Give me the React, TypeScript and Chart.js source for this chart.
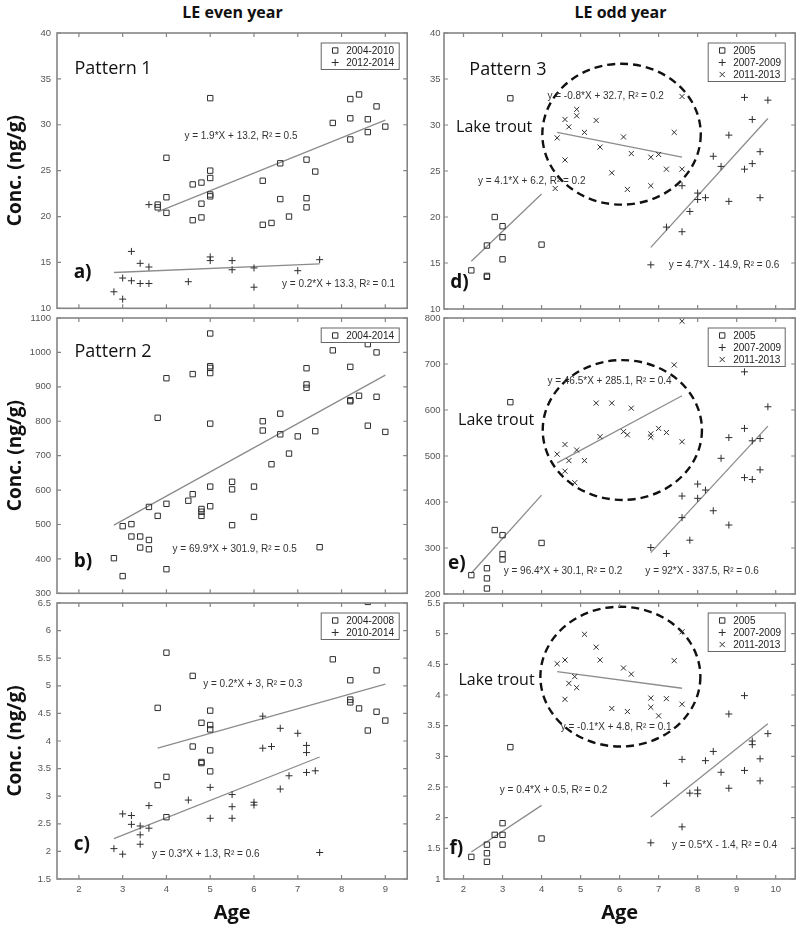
import React, { useEffect, useRef } from 'react';
import { Chart, registerables } from 'chart.js';

Chart.register(...registerables);

// ---------------- axis ticks ----------------
const xTicksEven = [2, 3, 4, 5, 6, 7, 8, 9];
const xTicksOdd = [2, 3, 4, 5, 6, 7, 8, 9, 10];
const yAxisA = [10, 40, 5];
const yAxisB = [300, 1100, 100];
const yAxisC = [1.5, 6.5, 0.5];
const yAxisD = [10, 40, 5];
const yAxisE = [200, 800, 100];
const yAxisF = [1, 5.5, 0.5];

// ---------------- labels ----------------
const colTitleEven = 'LE even year';
const colTitleOdd = 'LE odd year';
const yTitle = 'Conc. (ng/g)';
const xTitle = 'Age';
const legendA = ['2004-2010', '2012-2014'];
const legendB = ['2004-2014'];
const legendC = ['2004-2008', '2010-2014'];
const legendOdd = ['2005', '2007-2009', '2011-2013'];

// ---------------- panel a ----------------
const aSquares = [[3.8,21.3],[3.8,21.0],[4.0,26.4],[4.0,22.1],[4.0,20.4],[4.6,23.5],[4.6,19.6],[4.8,23.7],[4.8,21.4],[4.8,19.9],[5.0,32.9],[5.0,25.0],[5.0,24.2],[5.0,22.4],[5.0,22.2],[6.2,23.9],[6.2,19.1],[6.4,19.3],[6.6,25.8],[6.6,21.9],[6.8,20.0],[7.2,26.2],[7.2,22.0],[7.2,21.0],[7.4,24.9],[7.8,30.2],[8.2,32.8],[8.2,30.7],[8.2,28.4],[8.4,33.3],[8.6,30.6],[8.6,29.2],[8.8,32.0],[9.0,29.8]];
const aPlus = [[2.8,11.8],[3.0,11.0],[3.0,13.3],[3.2,13.0],[3.2,16.2],[3.4,14.9],[3.4,12.7],[3.6,14.5],[3.6,12.7],[3.6,21.3],[4.5,12.9],[5.0,15.6],[5.0,15.2],[5.5,15.2],[5.5,14.2],[6.0,14.4],[6.0,12.3],[7.0,14.1],[7.5,15.3]];
const aFitSquares = [[3.8,20.5],[9.0,30.5]];
const aFitPlus = [[2.8,13.9],[7.5,14.85]];
const aEqSquares = 'y = 1.9*X + 13.2, R² = 0.5';
const aEqPlus = 'y = 0.2*X + 13.3, R² = 0.1';

// ---------------- panel b ----------------
const bSquares = [[2.8,402],[3.0,495],[3.0,350],[3.2,501],[3.2,465],[3.4,465],[3.4,433],[3.6,551],[3.6,455],[3.6,428],[3.8,810],[3.8,525],[4.0,925],[4.0,560],[4.0,370],[4.5,569],[4.6,937],[4.6,588],[4.8,545],[4.8,537],[4.8,525],[5.0,1055],[5.0,960],[5.0,955],[5.0,940],[5.0,793],[5.0,610],[5.0,553],[5.5,624],[5.5,602],[5.5,498],[6.0,610],[6.0,522],[6.2,800],[6.2,773],[6.4,675],[6.6,822],[6.6,762],[6.8,706],[7.0,756],[7.2,954],[7.2,907],[7.2,897],[7.4,771],[7.5,434],[7.8,1006],[8.2,958],[8.2,861],[8.2,858],[8.4,874],[8.6,1024],[8.6,787],[8.8,1000],[8.8,871],[9.0,769]];
const bFit = [[2.8,498],[9.0,934]];
const bEq = 'y = 69.9*X + 301.9, R² = 0.5';

// ---------------- panel c ----------------
const cSquares = [[3.8,4.6],[3.8,3.2],[4.0,5.6],[4.0,3.35],[4.0,2.62],[4.6,5.18],[4.6,3.9],[4.8,4.33],[4.8,3.62],[4.8,3.6],[5.0,4.55],[5.0,4.29],[5.0,4.21],[5.0,3.83],[5.0,3.45],[7.8,5.48],[8.2,5.1],[8.2,4.75],[8.2,4.7],[8.4,4.59],[8.6,6.52],[8.6,4.19],[8.8,5.28],[8.8,4.53],[9.0,4.37]];
const cPlus = [[2.8,2.05],[3.0,1.95],[3.0,2.68],[3.2,2.65],[3.2,2.49],[3.4,2.46],[3.4,2.3],[3.4,2.13],[3.6,2.42],[3.6,2.83],[4.5,2.93],[5.0,3.16],[5.0,2.6],[5.5,3.03],[5.5,2.81],[5.5,2.6],[6.0,2.89],[6.0,2.84],[6.2,4.45],[6.2,3.87],[6.4,3.9],[6.6,4.23],[6.6,3.13],[6.8,3.37],[7.0,4.14],[7.2,3.92],[7.2,3.79],[7.2,3.43],[7.4,3.46],[7.5,1.98]];
const cFitSquares = [[3.8,3.87],[9.0,5.03]];
const cFitPlus = [[2.8,2.23],[7.5,3.71]];
const cEqSquares = 'y = 0.2*X + 3, R² = 0.3';
const cEqPlus = 'y = 0.3*X + 1.3, R² = 0.6';

// ---------------- panel d ----------------
const dSquares = [[2.2,14.2],[2.6,16.9],[2.6,13.6],[2.6,13.5],[2.8,20.0],[3.0,19.0],[3.0,17.8],[3.0,15.4],[3.2,32.9],[4.0,17.0]];
const dPlus = [[6.8,14.8],[7.2,18.9],[7.6,23.4],[7.6,18.4],[7.8,20.6],[8.0,22.6],[8.0,21.9],[8.2,22.1],[8.4,26.6],[8.6,25.5],[8.8,28.9],[8.8,21.7],[9.2,33.0],[9.2,25.2],[9.4,30.6],[9.4,25.8],[9.6,27.1],[9.6,22.1],[9.8,32.7]];
const dCross = [[4.35,23.1],[4.4,28.6],[4.6,30.6],[4.6,26.2],[4.7,29.8],[4.9,31.7],[4.9,31.0],[5.1,29.2],[5.4,30.5],[5.5,27.6],[5.8,24.8],[6.1,28.7],[6.2,23.0],[6.3,26.9],[6.8,26.5],[6.8,23.4],[7.0,26.8],[7.2,25.2],[7.4,29.2],[7.6,33.1],[7.6,25.2]];
const dFitSquares = [[2.2,15.2],[4.0,22.5]];
const dFitCross = [[4.4,29.2],[7.6,26.5]];
const dFitPlus = [[6.8,16.7],[9.8,30.7]];
const dEqCross = 'y = -0.8*X + 32.7, R² = 0.2';
const dEqSquares = 'y = 4.1*X + 6.2, R² = 0.2';
const dEqPlus = 'y = 4.7*X - 14.9, R² = 0.6';
const dEllipse = [6.05, 29.0, 2.03, 7.66];

// ---------------- panel e ----------------
const eSquares = [[2.2,241],[2.6,256],[2.6,234],[2.6,212],[2.8,339],[3.0,328],[3.0,287],[3.0,275],[3.2,617],[4.0,311]];
const ePlus = [[6.8,301],[7.2,288],[7.6,413],[7.6,366],[7.8,317],[8.0,439],[8.0,408],[8.2,426],[8.4,381],[8.6,495],[8.8,540],[8.8,350],[9.2,683],[9.2,560],[9.2,453],[9.4,533],[9.4,449],[9.6,538],[9.6,470],[9.8,607]];
const eCross = [[4.4,504],[4.6,525],[4.6,467],[4.7,490],[4.85,442],[4.9,513],[5.1,490],[5.4,615],[5.5,542],[5.8,615],[6.1,553],[6.2,546],[6.3,604],[6.8,548],[6.8,541],[7.0,560],[7.2,551],[7.4,698],[7.6,793],[7.6,531]];
const eFitSquares = [[2.2,245],[4.0,415]];
const eFitCross = [[4.4,485],[7.6,631]];
const eFitPlus = [[6.8,290],[9.8,565]];
const eEqCross = 'y = 46.5*X + 285.1, R² = 0.4';
const eEqSquares = 'y = 96.4*X + 30.1, R² = 0.2';
const eEqPlus = 'y = 92*X - 337.5, R² = 0.6';
const eEllipse = [6.07, 556.5, 2.04, 152];

// ---------------- panel f ----------------
const fSquares = [[2.2,1.36],[2.6,1.56],[2.6,1.42],[2.6,1.28],[2.8,1.72],[3.0,1.91],[3.0,1.72],[3.0,1.56],[3.2,3.15],[4.0,1.66]];
const fPlus = [[6.8,1.59],[7.2,2.56],[7.6,2.95],[7.6,1.85],[7.8,2.4],[8.0,2.45],[8.0,2.39],[8.2,2.93],[8.4,3.08],[8.6,2.74],[8.8,3.69],[8.8,2.48],[9.2,3.99],[9.2,2.77],[9.4,3.25],[9.4,3.19],[9.6,2.96],[9.6,2.6],[9.8,3.37]];
const fCross = [[4.4,4.51],[4.6,4.57],[4.6,3.93],[4.7,4.19],[4.85,4.3],[4.9,4.12],[5.1,4.99],[5.4,4.78],[5.5,4.57],[5.8,3.78],[6.1,4.44],[6.2,3.73],[6.3,4.34],[6.8,3.95],[6.8,3.8],[7.0,3.66],[7.2,3.94],[7.4,4.56],[7.6,5.03],[7.6,3.85]];
const fFitSquares = [[2.2,1.44],[4.0,2.2]];
const fFitCross = [[4.4,4.38],[7.6,4.11]];
const fFitPlus = [[6.8,2.01],[9.8,3.53]];
const fEqCross = 'y = -0.1*X + 4.8, R² = 0.1';
const fEqSquares = 'y = 0.4*X + 0.5, R² = 0.2';
const fEqPlus = 'y = 0.5*X - 1.4, R² = 0.4';
const fEllipse = [6.02, 4.3, 2.05, 1.14];

// ---------------- styling ----------------
const MARK = '#2e2e2e';
const FIT = '#8c8c8c';
const AXIS = '#858585';
const TICKTXT = '#555555';
const SANS = '"Liberation Sans", Arial, sans-serif';
const LABELF = '"Open Sans", "Noto Sans", sans-serif';
const EQFONT = `10px ${SANS}`;
const PATFONT = `18px ${LABELF}`;
const LAKEFONT = `16px ${LABELF}`;
const TAGFONT = `bold 19px ${LABELF}`;

type Kind = 'sq' | 'plus' | 'x';
const POINT_STYLE: Record<Kind, string> = { sq: 'rect', plus: 'cross', x: 'crossRot' };
const POINT_R: Record<Kind, number> = { sq: 3.8, plus: 3.5, x: 3.6 };

type TextItem = { text: string; x: number; y: number; font: string };
type Spec = {
  key: string;
  col: 'L' | 'R';
  row: 0 | 1 | 2;
  xTicks: number[];
  xRange: number[];
  yAxis: number[];
  series: { label: string; kind: Kind; data: number[][] }[];
  fits: number[][][];
  texts: TextItem[];
  ellipse?: number[];
};

const pts = (arr: number[][]) => arr.map(([x, y]) => ({ x, y }));

function drawMark(ctx: CanvasRenderingContext2D, kind: Kind, x: number, y: number) {
  ctx.beginPath();
  if (kind === 'sq') {
    ctx.rect(x - 2.7, y - 2.7, 5.4, 5.4);
  } else if (kind === 'plus') {
    ctx.moveTo(x - 3.5, y); ctx.lineTo(x + 3.5, y);
    ctx.moveTo(x, y - 3.5); ctx.lineTo(x, y + 3.5);
  } else {
    ctx.moveTo(x - 2.6, y - 2.6); ctx.lineTo(x + 2.6, y + 2.6);
    ctx.moveTo(x - 2.6, y + 2.6); ctx.lineTo(x + 2.6, y - 2.6);
  }
  ctx.stroke();
}

const COLS = {
  L: { cl: 0, cw: 412, L: 57, R: 408, ypad: 6, wy: 57, legendW: 78, legendRight: 8 },
  R: { cl: 412, cw: 388, L: 444, R: 797, ypad: 3.5, wy: 32, legendW: 77, legendRight: 10 },
};
const ROWS = [
  { ct: 20, ch: 300, T: 33, B: 309, hx: 0 },
  { ct: 305, ch: 300, T: 318, B: 594, hx: 0 },
  { ct: 590, ch: 339, T: 603, B: 879, hx: 46 },
];

function makeDecor(s: Spec) {
  const col = COLS[s.col];
  return {
    id: 'decor_' + s.key,
    beforeDatasetsDraw(chart: any) {
      if (!s.ellipse) return;
      const { ctx } = chart;
      const xs = chart.scales.x, ys = chart.scales.y;
      const [ecx, ecy, erx, ery] = s.ellipse;
      const cx = xs.getPixelForValue(ecx), cy = ys.getPixelForValue(ecy);
      const rx = Math.abs(xs.getPixelForValue(ecx + erx) - cx);
      const ry = Math.abs(ys.getPixelForValue(ecy + ery) - cy);
      ctx.save();
      ctx.setLineDash([8, 5]);
      ctx.lineWidth = 2.4;
      ctx.strokeStyle = '#111';
      ctx.beginPath();
      ctx.ellipse(cx, cy, rx, ry, 0, 0, Math.PI * 2);
      ctx.stroke();
      ctx.restore();
    },
    afterDraw(chart: any) {
      const { ctx, chartArea: a } = chart;
      const xs = chart.scales.x, ys = chart.scales.y;
      ctx.save();
      // texts
      ctx.textAlign = 'left';
      ctx.textBaseline = 'middle';
      s.texts.forEach((t) => {
        ctx.font = t.font;
        ctx.fillStyle = t.font === EQFONT ? '#333' : '#111';
        ctx.fillText(t.text, xs.getPixelForValue(t.x), ys.getPixelForValue(t.y));
      });
      // axes box
      ctx.strokeStyle = AXIS;
      ctx.lineWidth = 1.6;
      ctx.strokeRect(a.left, a.top, a.right - a.left, a.bottom - a.top);
      // inward ticks
      ctx.lineWidth = 1.2;
      ctx.beginPath();
      xs.ticks.forEach((t: any) => {
        const px = xs.getPixelForValue(t.value);
        ctx.moveTo(px, a.top); ctx.lineTo(px, a.top + 4);
        ctx.moveTo(px, a.bottom); ctx.lineTo(px, a.bottom - 4);
      });
      ys.ticks.forEach((t: any) => {
        const py = ys.getPixelForValue(t.value);
        ctx.moveTo(a.left, py); ctx.lineTo(a.left + 4, py);
        ctx.moveTo(a.right, py); ctx.lineTo(a.right - 4, py);
      });
      ctx.stroke();
      // legend
      const n = s.series.length;
      const w = col.legendW;
      const h = n * 12 + 2.5;
      const lx = a.right - col.legendRight - w;
      const ly = a.top + 10;
      ctx.fillStyle = '#fff';
      ctx.fillRect(lx, ly, w, h);
      ctx.strokeStyle = '#666';
      ctx.lineWidth = 1;
      ctx.strokeRect(lx, ly, w, h);
      ctx.font = `10px ${SANS}`;
      s.series.forEach((se, i) => {
        const cy = ly + 7.5 + i * 12;
        ctx.strokeStyle = MARK;
        ctx.lineWidth = 1;
        drawMark(ctx, se.kind, lx + 14, cy);
        ctx.fillStyle = '#222';
        ctx.fillText(se.label, lx + 25, cy + 0.5);
      });
      ctx.restore();
    },
  };
}

function buildConfig(s: Spec): any {
  const col = COLS[s.col];
  const row = ROWS[s.row];
  const bottom = s.row === 2;
  const datasets: any[] = [];
  s.series.forEach((se) => {
    datasets.push({
      label: se.label,
      data: pts(se.data),
      showLine: false,
      pointStyle: POINT_STYLE[se.kind],
      pointRadius: POINT_R[se.kind],
      pointHoverRadius: POINT_R[se.kind],
      pointBorderColor: MARK,
      pointBackgroundColor: 'rgba(0,0,0,0)',
      pointBorderWidth: 1,
    });
  });
  s.fits.forEach((f) => {
    datasets.push({
      data: pts(f),
      showLine: true,
      borderColor: FIT,
      borderWidth: 1.3,
      pointRadius: 0,
      fill: false,
    });
  });
  const tickFont = { family: SANS, size: 9.5 };
  const fmt = (v: number) => String(Math.round(v * 100) / 100);
  return {
    type: 'scatter',
    data: { datasets },
    plugins: [makeDecor(s)],
    options: {
      responsive: false,
      animation: false,
      devicePixelRatio: 1,
      events: [],
      layout: {
        padding: {
          left: col.L - col.cl - col.wy,
          right: col.cl + col.cw - col.R,
          top: row.T - row.ct,
          bottom: row.ct + row.ch - row.B - row.hx,
        },
      },
      plugins: { legend: { display: false }, tooltip: { enabled: false } },
      scales: {
        x: {
          type: 'linear',
          min: s.xRange[0],
          max: s.xRange[1],
          afterBuildTicks: (sc: any) => { sc.ticks = s.xTicks.map((v) => ({ value: v })); },
          afterFit: (sc: any) => { sc.height = row.hx; },
          grid: { display: false, drawTicks: false },
          border: { display: false },
          ticks: { display: bottom, padding: 5, font: tickFont, color: TICKTXT, callback: fmt, maxRotation: 0, autoSkip: false },
          title: { display: bottom, text: xTitle, color: '#111', font: { family: LABELF, size: 20, weight: 'bold' }, padding: 0 },
        },
        y: {
          type: 'linear',
          min: s.yAxis[0],
          max: s.yAxis[1],
          afterFit: (sc: any) => { sc.width = col.wy; },
          grid: { display: false, drawTicks: false },
          border: { display: false },
          ticks: { stepSize: s.yAxis[2], padding: col.ypad, font: tickFont, color: TICKTXT, callback: fmt, autoSkip: false },
          title: { display: s.col === 'L', text: yTitle, color: '#111', font: { family: LABELF, size: 19, weight: 'bold' }, padding: { top: 4, bottom: 0 } },
        },
      },
    },
  };
}

const xRangeEven = [1.5, 9.5];
const xRangeOdd = [1.5, 10.5];

const SPECS: Spec[] = [
  {
    key: 'a', col: 'L', row: 0, xTicks: xTicksEven, xRange: xRangeEven, yAxis: yAxisA,
    series: [
      { label: legendA[0], kind: 'sq', data: aSquares },
      { label: legendA[1], kind: 'plus', data: aPlus },
    ],
    fits: [aFitSquares, aFitPlus],
    texts: [
      { text: aEqSquares, x: 4.41, y: 28.7, font: EQFONT },
      { text: aEqPlus, x: 6.64, y: 12.6, font: EQFONT },
      { text: 'Pattern 1', x: 1.9, y: 36.1, font: PATFONT },
      { text: 'a)', x: 1.88, y: 13.9, font: TAGFONT },
    ],
  },
  {
    key: 'b', col: 'L', row: 1, xTicks: xTicksEven, xRange: xRangeEven, yAxis: yAxisB,
    series: [{ label: legendB[0], kind: 'sq', data: bSquares }],
    fits: [bFit],
    texts: [
      { text: bEq, x: 4.14, y: 429, font: EQFONT },
      { text: 'Pattern 2', x: 1.9, y: 1003, font: PATFONT },
      { text: 'b)', x: 1.88, y: 391, font: TAGFONT },
    ],
  },
  {
    key: 'c', col: 'L', row: 2, xTicks: xTicksEven, xRange: xRangeEven, yAxis: yAxisC,
    series: [
      { label: legendC[0], kind: 'sq', data: cSquares },
      { label: legendC[1], kind: 'plus', data: cPlus },
    ],
    fits: [cFitSquares, cFitPlus],
    texts: [
      { text: cEqSquares, x: 4.84, y: 5.03, font: EQFONT },
      { text: cEqPlus, x: 3.67, y: 1.95, font: EQFONT },
      { text: 'c)', x: 1.88, y: 2.12, font: TAGFONT },
    ],
  },
  {
    key: 'd', col: 'R', row: 0, xTicks: xTicksOdd, xRange: xRangeOdd, yAxis: yAxisD,
    series: [
      { label: legendOdd[0], kind: 'sq', data: dSquares },
      { label: legendOdd[1], kind: 'plus', data: dPlus },
      { label: legendOdd[2], kind: 'x', data: dCross },
    ],
    fits: [dFitSquares, dFitCross, dFitPlus],
    ellipse: dEllipse,
    texts: [
      { text: dEqCross, x: 4.15, y: 33.1, font: EQFONT },
      { text: dEqSquares, x: 2.37, y: 23.9, font: EQFONT },
      { text: dEqPlus, x: 7.26, y: 14.75, font: EQFONT },
      { text: 'Pattern 3', x: 2.15, y: 36.0, font: PATFONT },
      { text: 'Lake trout', x: 1.81, y: 29.7, font: LAKEFONT },
      { text: 'd)', x: 1.66, y: 12.9, font: TAGFONT },
    ],
  },
  {
    key: 'e', col: 'R', row: 1, xTicks: xTicksOdd, xRange: xRangeOdd, yAxis: yAxisE,
    series: [
      { label: legendOdd[0], kind: 'sq', data: eSquares },
      { label: legendOdd[1], kind: 'plus', data: ePlus },
      { label: legendOdd[2], kind: 'x', data: eCross },
    ],
    fits: [eFitSquares, eFitCross, eFitPlus],
    ellipse: eEllipse,
    texts: [
      { text: eEqCross, x: 4.15, y: 663, font: EQFONT },
      { text: eEqSquares, x: 3.03, y: 248.5, font: EQFONT },
      { text: eEqPlus, x: 6.66, y: 248.5, font: EQFONT },
      { text: 'Lake trout', x: 1.86, y: 578, font: LAKEFONT },
      { text: 'e)', x: 1.6, y: 267, font: TAGFONT },
    ],
  },
  {
    key: 'f', col: 'R', row: 2, xTicks: xTicksOdd, xRange: xRangeOdd, yAxis: yAxisF,
    series: [
      { label: legendOdd[0], kind: 'sq', data: fSquares },
      { label: legendOdd[1], kind: 'plus', data: fPlus },
      { label: legendOdd[2], kind: 'x', data: fCross },
    ],
    fits: [fFitSquares, fFitCross, fFitPlus],
    ellipse: fEllipse,
    texts: [
      { text: fEqCross, x: 4.49, y: 3.48, font: EQFONT },
      { text: fEqSquares, x: 2.93, y: 2.44, font: EQFONT },
      { text: fEqPlus, x: 7.34, y: 1.55, font: EQFONT },
      { text: 'Lake trout', x: 1.87, y: 4.23, font: LAKEFONT },
      { text: 'f)', x: 1.64, y: 1.5, font: TAGFONT },
    ],
  },
];

function Panel({ spec }: { spec: Spec }) {
  const ref = useRef<HTMLCanvasElement>(null);
  const col = COLS[spec.col];
  const row = ROWS[spec.row];
  useEffect(() => {
    const chart = new Chart(ref.current as HTMLCanvasElement, buildConfig(spec));
    return () => chart.destroy();
  }, [spec]);
  return (
    <canvas
      ref={ref}
      width={col.cw}
      height={row.ch}
      style={{ position: 'absolute', left: col.cl, top: row.ct, width: col.cw, height: row.ch }}
    />
  );
}

export default function App() {
  const titleStyle: React.CSSProperties = {
    position: 'absolute',
    top: 2,
    height: 20,
    lineHeight: '20px',
    textAlign: 'center',
    fontFamily: LABELF,
    fontWeight: 'bold',
    fontSize: 16,
    color: '#111',
  };
  return (
    <div style={{ position: 'absolute', left: 0, top: 0, width: 800, height: 929, background: '#fff', overflow: 'hidden' }}>
      <div style={{ ...titleStyle, left: 57, width: 351 }}>{colTitleEven}</div>
      <div style={{ ...titleStyle, left: 444, width: 353 }}>{colTitleOdd}</div>
      {SPECS.map((s) => (
        <Panel key={s.key} spec={s} />
      ))}
    </div>
  );
}
